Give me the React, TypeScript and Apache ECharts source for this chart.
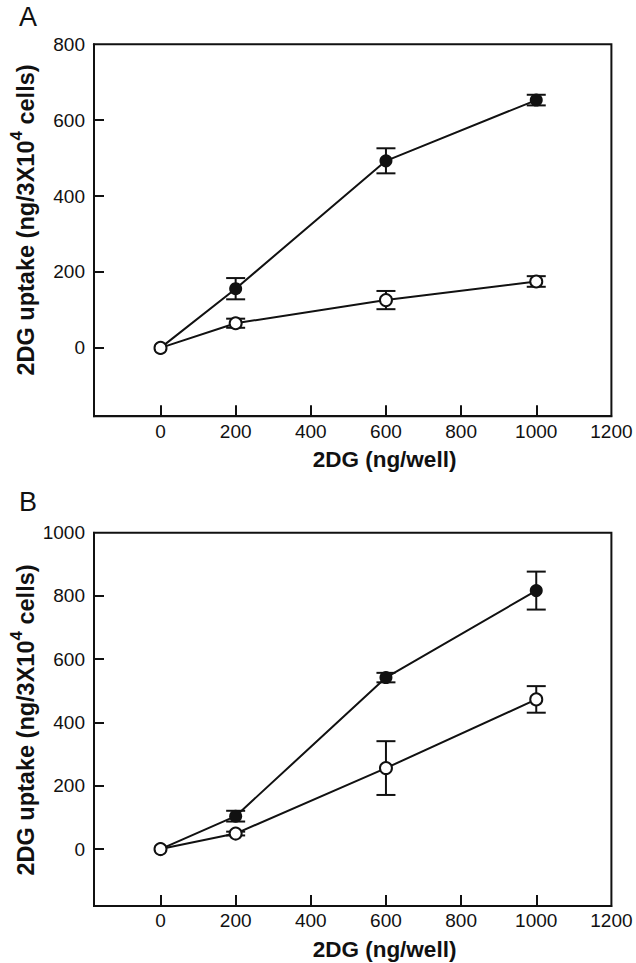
import React, { useEffect, useRef } from "react";
import * as echarts from "echarts";

// ---- data ----
const doses = [0, 200, 600, 1000]; // 2DG (ng/well)

const aFilled = [0, 156, 493, 653];
const aFilledErr = [0, 28, 33, 14];
const aOpen = [0, 65, 126, 175];
const aOpenErr = [0, 12, 24, 14];

const bFilled = [0, 104, 542, 817];
const bFilledErr = [0, 17, 15, 60];
const bOpen = [0, 49, 256, 473];
const bOpenErr = [0, 6, 85, 42];

const xTickLabels = [0, 200, 400, 600, 800, 1000, 1200];
const xTicks = [0, 200, 400, 600, 800, 1000];
const aYLabels = [0, 200, 400, 600, 800];
const bYLabels = [0, 200, 400, 600, 800, 1000];

const FONT = "'Liberation Sans', Arial, Helvetica, sans-serif";
const INK = "#111";

function pts(vals: number[]) {
  return doses.map((d, i) => [d, vals[i]]);
}
function errPts(vals: number[], errs: number[]) {
  return doses.map((d, i) => [d, vals[i], errs[i]]);
}

function errorRender(params: any, api: any) {
  const x = api.value(0);
  const y = api.value(1);
  const e = api.value(2);
  if (!e) return { type: "group", children: [] };
  const hi = api.coord([x, y + e]);
  const lo = api.coord([x, y - e]);
  const w = 9.5;
  const st = { stroke: INK, lineWidth: 2 };
  return {
    type: "group",
    children: [
      { type: "line", shape: { x1: hi[0], y1: hi[1], x2: lo[0], y2: lo[1] }, style: st },
      { type: "line", shape: { x1: hi[0] - w, y1: hi[1], x2: hi[0] + w, y2: hi[1] }, style: st },
      { type: "line", shape: { x1: lo[0] - w, y1: lo[1], x2: lo[0] + w, y2: lo[1] }, style: st },
    ],
  };
}

const plain = (v: number) => String(v);

export default function App() {
  const ref = useRef<HTMLDivElement>(null);
  useEffect(() => {
    if (!ref.current) return;
    const chart = echarts.init(ref.current, null, { renderer: "svg" });

    const xAxisBase = (gridIndex: number, margin: number) => ({
      type: "value",
      gridIndex,
      min: -177,
      max: 1200,
      axisLine: { show: true, onZero: false, lineStyle: { color: INK, width: 2 } },
      axisTick: { show: true, inside: true, length: 11, customValues: xTicks, lineStyle: { color: INK, width: 2 } },
      axisLabel: { customValues: xTickLabels, formatter: plain, margin, fontSize: 19, fontFamily: FONT, color: INK },
      splitLine: { show: false },
    });
    const yAxisBase = (gridIndex: number, max: number, labels: number[]) => ({
      type: "value",
      gridIndex,
      min: -180,
      max,
      axisLine: { show: true, onZero: false, lineStyle: { color: INK, width: 2 } },
      axisTick: { show: true, inside: true, length: 10, customValues: labels.slice(0, -1), lineStyle: { color: INK, width: 2 } },
      axisLabel: { customValues: labels, formatter: plain, margin: 9, fontSize: 19, fontFamily: FONT, color: INK },
      splitLine: { show: false },
    });

    const lineSeries = (xi: number, vals: number[], filled: boolean) => ({
      type: "line",
      xAxisIndex: xi,
      yAxisIndex: xi,
      data: pts(vals),
      symbol: "circle",
      symbolSize: filled ? 13 : 12,
      z: filled ? 3 : 4,
      lineStyle: { color: INK, width: 2 },
      itemStyle: { color: filled ? INK : "#fff", borderColor: INK, borderWidth: filled ? 0 : 2 },
      emphasis: { disabled: true },
    });
    const errSeries = (xi: number, vals: number[], errs: number[]) => ({
      type: "custom",
      xAxisIndex: xi,
      yAxisIndex: xi,
      data: errPts(vals, errs),
      renderItem: errorRender,
      z: 2,
      encode: { x: 0, y: 1 },
    });

    const yTitle = (y: number) => ({
      type: "text",
      x: 23,
      y,
      rotation: Math.PI / 2,
      style: {
        text: "{t|2DG uptake (ng/3X10}{s|4}{t| cells)}",
        align: "center",
        verticalAlign: "middle",
        rich: {
          t: { fontSize: 23.5, fontWeight: "bold", fontFamily: FONT, fill: INK, lineHeight: 30, verticalAlign: "bottom" },
          s: { fontSize: 17, fontWeight: "bold", fontFamily: FONT, fill: INK, lineHeight: 16, verticalAlign: "top" },
        },
      },
    });
    const xTitle = (y: number) => ({
      type: "text",
      x: 384.5,
      y,
      style: {
        text: "2DG (ng/well)",
        fontSize: 22.5,
        fontWeight: "bold",
        fontFamily: FONT,
        fill: INK,
        align: "center",
        verticalAlign: "middle",
      },
    });
    const letter = (t: string, y: number) => ({
      type: "text",
      x: 28,
      y,
      style: { text: t, fontSize: 27, fontFamily: FONT, fill: INK, align: "center", verticalAlign: "middle" },
    });

    chart.setOption({
      animation: false,
      backgroundColor: "#fff",
      grid: [
        { left: 94, top: 44.3, width: 517.4, height: 371.9, show: true, borderColor: INK, borderWidth: 2, containLabel: false },
        { left: 94, top: 532.7, width: 517.4, height: 373.3, show: true, borderColor: INK, borderWidth: 2, containLabel: false },
      ],
      xAxis: [xAxisBase(0, 6), xAxisBase(1, 5)],
      yAxis: [yAxisBase(0, 800, aYLabels), yAxisBase(1, 1000, bYLabels)],
      series: [
        errSeries(0, aFilled, aFilledErr),
        errSeries(0, aOpen, aOpenErr),
        lineSeries(0, aFilled, true),
        lineSeries(0, aOpen, false),
        errSeries(1, bFilled, bFilledErr),
        errSeries(1, bOpen, bOpenErr),
        lineSeries(1, bFilled, true),
        lineSeries(1, bOpen, false),
      ],
      graphic: [
        letter("A", 17),
        letter("B", 502),
        yTitle(220),
        yTitle(720),
        xTitle(459),
        xTitle(949),
      ],
    });
    return () => chart.dispose();
  }, []);
  return (
    <div
      ref={ref}
      style={{ position: "absolute", left: 0, top: 0, width: 636, height: 963, background: "#fff" }}
    />
  );
}
